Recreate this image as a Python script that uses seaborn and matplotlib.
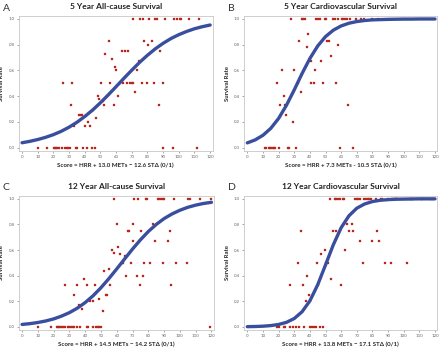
import numpy as np
import pandas as pd
import matplotlib
matplotlib.use("Agg")
import matplotlib.pyplot as plt
import seaborn as sns

# Panel A - 5 year all-cause
a_top = [71, 75, 77, 81, 85, 86, 91.5, 97, 99, 100.5, 101.5, 106.5, 113]
a_bottom = [10, 16, 20.5, 21, 21.7, 22.5, 23.6, 25.5, 27.6, 28.5, 29.5, 30.4, 34.2, 35,
            39, 41.6, 44.4, 46.5, 90, 96.4, 111.5]
a_mid_x = [26.3, 32, 31.2, 33, 36.3, 37.4, 38.4, 40.3, 42.2, 43.3,
           45.4, 47.3, 48.2, 49, 50.3, 51.4, 52.4, 53.1, 54.4, 55.2,
           56.3, 57.1, 58.4, 59.2, 60.1, 61.4, 62.4, 63.7, 64.5, 65.8,
           67.1, 67.9, 68.6, 70, 70.7, 72.2, 73.5, 74.3, 76.4, 78.1,
           79.4, 80.3, 82.6, 84.3, 87.3, 88.3, 89.6]
a_mid_y = [0.5, 0.5, 0.33, 0.17, 0.25, 0.25, 0.25, 0.17, 0.2, 0.17,
           0.29, 0.23, 0.4, 0.38, 0.5, 0.36, 0.33, 0.73, 0.4, 0.83,
           0.5, 0.69, 0.33, 0.63, 0.6, 0.4, 0.5, 0.75, 0.5, 0.75,
           0.5, 0.75, 0.5, 0.5, 0.5, 0.43, 0.6, 0.67, 0.5, 0.83,
           0.5, 0.8, 0.83, 0.5, 0.33, 0.75, 0.5]

# Panel B - 5 year cardiovascular
b_top = [28, 35, 35.9, 37, 44, 45.1, 46.2, 49.4, 50.4, 54.7, 55.8, 57.9, 60.5, 61.3,
         62.6, 63.9, 65.4, 69.7, 72.4, 74.6, 79.7, 83.5]
b_bottom = [11.1, 12, 13.7, 14.5, 15.4, 16.2, 17.1, 17.9, 20.1, 25.9, 26.9, 31.2, 59.4, 67.7]
b_mid_x = [19.2, 21.2, 22, 23.3, 24.1, 25, 29.3, 30.1, 32.3, 33.1,
           34, 38.2, 39.1, 40.4, 41, 42.5, 43.4, 47.2, 48.3, 51.1,
           52.4, 53.2, 56.4, 58.1, 64.5]
b_mid_y = [0.5, 0.33, 0.6, 0.4, 0.33, 0.25, 0.2, 0.6, 0.5, 0.83,
           0.43, 0.78, 0.88, 0.5, 0.67, 0.5, 0.6, 0.67, 0.5, 0.83,
           0.83, 0.71, 0.5, 0.8, 0.33]

# Panel C - 12 year all-cause
c_top = [58.4, 71.2, 73.3, 78.4, 79.2, 85.9, 87, 88, 89.1, 90.1, 96, 105, 106.1, 113, 120]
c_bottom = [10.1, 18.1, 22.1, 22.7, 23.5, 24.1, 25, 26, 26.9, 29, 30, 30.9, 32, 33, 34.9,
            37, 41, 41.8, 45, 46.8, 47.9, 49, 49.8, 119.1]
c_mid_x = [27, 33, 35, 36, 38, 39, 41, 43, 45, 46,
           49, 51, 52, 53, 54, 55, 56, 57, 58, 60,
           61, 62, 63, 64, 65, 66, 67, 68, 69, 70,
           70.5, 72.5, 74.6, 75.4, 76.5, 77.3, 81.3, 83.2, 84.2, 89.3,
           92.4, 93.5, 94.3, 97.3, 104.2]
c_mid_y = [0.33, 0.25, 0.33, 0.17, 0.14, 0.375, 0.33, 0.2, 0.2, 0.33,
           0.22, 0.125, 0.44, 0.25, 0.25, 0.45, 0.33, 0.6, 0.58, 0.8,
           0.625, 0.57, 0.5, 0.5, 0.55, 0.4, 0.75, 0.75, 0.5, 0.67,
           0.8, 0.4, 0.33, 0.75, 0.4, 0.5, 0.5, 0.8, 0.67, 0.5,
           0.67, 0.75, 0.33, 0.5, 0.5]

# Panel D - 12 year cardiovascular
d_top = [52.6, 55.8, 56.9, 58, 59.4, 60.9, 62, 68.9, 69.9, 71, 72.1, 74.9, 75.9, 77,
         77.9, 78.8, 82, 85.2, 85.8, 90.1, 92.7, 93.8, 94.8, 95.3, 104.5, 105.6, 111.4, 118]
d_bottom = [19.1, 20.2, 23.2, 24.2, 27.3, 29.4, 31.3, 33.3, 36.5, 40.3, 41.4, 42.5, 43.6,
            46.6, 48.7]
d_mid_x = [27.3, 32.4, 34.3, 35.4, 37.3, 38.4, 39.5, 44.6, 45.5, 47.4,
           49.6, 50.6, 51.5, 53.6, 54.7, 56.7, 59.7, 62.7, 63.7, 64.8,
           66.7, 67.8, 71.9, 74, 80, 82.6, 83.9, 88, 92.1, 102.1]
d_mid_y = [0.33, 0.5, 0.75, 0.33, 0.2, 0.4, 0.25, 0.5, 0.33, 0.57,
           0.6, 0.5, 0.5, 0.375, 0.75, 0.75, 0.33, 0.6, 0.8, 0.75,
           0.8, 0.75, 0.67, 0.5, 0.67, 0.75, 0.67, 0.5, 0.5, 0.5]

# fitted curves, every 5 points of score
curve_x = [0, 5, 10, 15, 20, 25, 30, 35, 40, 45, 50, 55, 60,
           65, 70, 75, 80, 85, 90, 95, 100, 105, 110, 115, 120]
a_curve = [0.038, 0.049, 0.063, 0.080, 0.101, 0.127, 0.159, 0.197, 0.242, 0.292, 0.349, 0.410, 0.474,
           0.539, 0.602, 0.663, 0.718, 0.768, 0.811, 0.848, 0.878, 0.903, 0.924, 0.940, 0.953]
b_curve = [0.037, 0.060, 0.096, 0.150, 0.227, 0.329, 0.449, 0.576, 0.693, 0.790, 0.863, 0.913, 0.946,
           0.967, 0.980, 0.988, 0.993, 0.995, 0.997, 0.998, 0.999, 0.999, 1.0, 1.0, 1.0]
c_curve = [0.019, 0.025, 0.034, 0.046, 0.062, 0.084, 0.111, 0.146, 0.190, 0.243, 0.306, 0.377, 0.453,
           0.531, 0.608, 0.680, 0.745, 0.800, 0.846, 0.882, 0.911, 0.934, 0.951, 0.964, 0.973]
d_curve = [0.0014, 0.0027, 0.0051, 0.0098, 0.0186, 0.0351, 0.0651, 0.118, 0.203, 0.329, 0.484, 0.642, 0.775,
           0.868, 0.927, 0.960, 0.979, 0.989, 0.994, 0.997, 0.998, 0.999, 1.0, 1.0, 1.0]

titles = ["5 Year All-cause Survival", "5 Year Cardiovascular Survival",
          "12 Year All-cause Survival", "12 Year Cardiovascular Survival"]
letters = ["A", "B", "C", "D"]
xlabels = ["Score = HRR + 13.0 METs \u2212 12.6 ST\u0394 (0/1)",
           "Score = HRR + 7.3 METs - 10.5 ST\u0394 (0/1)",
           "Score = HRR + 14.5 METs \u2212 14.2 ST\u0394 (0/1)",
           "Score = HRR + 13.8 METs \u2212 17.1 ST\u0394 (0/1)"]

sns.set_style("white")
plt.rcParams['font.family'] = ['Lato', 'DejaVu Sans']

fig = plt.figure(figsize=(4.4, 3.5), dpi=100)
boxes = [[0.043, 0.569, 0.440, 0.386],
         [0.555, 0.569, 0.439, 0.386],
         [0.043, 0.057, 0.443, 0.384],
         [0.555, 0.057, 0.439, 0.384]]

panels = [(a_top, a_bottom, a_mid_x, a_mid_y, a_curve),
          (b_top, b_bottom, b_mid_x, b_mid_y, b_curve),
          (c_top, c_bottom, c_mid_x, c_mid_y, c_curve),
          (d_top, d_bottom, d_mid_x, d_mid_y, d_curve)]

for i, (top, bottom, mx, my, curve) in enumerate(panels):
    ax = fig.add_axes(boxes[i])
    pts = pd.DataFrame({
        "score": list(top) + list(bottom) + list(mx),
        "rate": [1.0] * len(top) + [0.0] * len(bottom) + list(my),
    })
    fit = pd.DataFrame({"score": curve_x, "rate": curve})
    sns.scatterplot(data=pts, x="score", y="rate", ax=ax, marker="s", s=4.2,
                    color="#b5281b", edgecolor="#b5281b", linewidth=0.2, zorder=2)
    sns.lineplot(data=fit, x="score", y="rate", ax=ax, color="#3a4e9e",
                 linewidth=2.4, zorder=3)
    ax.set_xlim(-2, 121.5)
    ax.set_ylim(-0.025, 1.025)
    ax.set_xticks(range(0, 121, 10))
    ax.set_yticks([0.0, 0.2, 0.4, 0.6, 0.8, 1.0])
    ax.set_yticklabels(["0.0", "0.2", "0.4", "0.6", "0.8", "1.0"])
    ax.tick_params(labelsize=3.2, colors="#666666", length=1.5, width=0.4, pad=1.5,
                   bottom=True, left=True)
    for sp in ax.spines.values():
        sp.set_color("#c8c8c8")
        sp.set_linewidth(0.6)
    ax.set_xlabel(xlabels[i], fontsize=4.4, fontweight="bold", labelpad=2.5)
    ax.set_ylabel("Survival Rate", fontsize=4.3, fontweight="bold", labelpad=3)
    ax.set_title(titles[i], fontsize=6.0, fontweight="bold", pad=4.8, color="#222222")
    fx = boxes[i][0] - 0.037
    fy = boxes[i][1] + boxes[i][3] + 0.022
    fig.text(fx, fy, letters[i], fontsize=7.5, ha="left", va="center", color="#333333")

fig.savefig("out.png", dpi=100)
